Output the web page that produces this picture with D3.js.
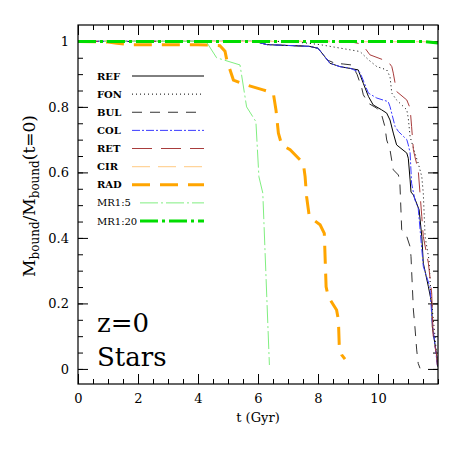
<!DOCTYPE html>
<html>
<head>
<meta charset="utf-8">
<script src="https://cdn.jsdelivr.net/npm/d3@7"></script>
<style>
body { margin: 0; background: #fff; }
svg text { font-family: "DejaVu Serif", serif; fill: #000; }
</style>
</head>
<body>
<div id="chart"></div>
<script>
// series names, in legend order
var names = ['REF', 'FON', 'BUL', 'COL', 'RET', 'CIR', 'RAD', 'MR1:5', 'MR1:20'];

// t (Gyr) and M_bound / M_bound(t=0)
var refT = [0, 5.9, 6.3, 7.7, 8.0, 8.23, 8.4, 8.73, 9.34, 9.51, 9.68, 9.84, 10.12, 10.29, 10.4, 10.51, 10.62, 10.96, 11.01, 11.07, 11.1, 11.18, 11.37, 11.46, 11.51, 11.68, 11.79, 11.81, 11.96, 11.99];
var refM = [1, 1, 0.99, 0.985, 0.979, 0.953, 0.933, 0.923, 0.913, 0.872, 0.832, 0.806, 0.791, 0.781, 0.76, 0.72, 0.684, 0.659, 0.643, 0.577, 0.54, 0.531, 0.486, 0.404, 0.323, 0.251, 0.2, 0.129, 0.038, 0.007];

var fonT = [0, 7.0, 7.6, 8.07, 9.4, 9.68, 9.96, 10.29, 10.4, 10.46, 10.62, 10.96, 11.01, 11.07, 11.23, 11.34, 11.46, 11.51, 11.57, 11.7, 11.74, 11.79, 11.9, 11.98];
var fonM = [1, 1, 0.995, 0.99, 0.969, 0.944, 0.923, 0.913, 0.892, 0.842, 0.821, 0.791, 0.765, 0.709, 0.659, 0.628, 0.587, 0.536, 0.404, 0.333, 0.262, 0.2, 0.099, 0.017];

var bulT = [0, 5.9, 6.3, 7.7, 8.0, 8.2, 8.34, 8.57, 8.84, 9.12, 9.3, 9.46, 9.51, 9.68, 9.96, 10.12, 10.23, 10.29, 10.4, 10.51, 10.68, 10.73, 10.79, 10.96, 11.07, 11.1, 11.18, 11.23, 11.29, 11.34, 11.4];
var bulM = [1, 1, 0.99, 0.985, 0.979, 0.955, 0.942, 0.933, 0.931, 0.928, 0.9, 0.857, 0.837, 0.811, 0.796, 0.776, 0.74, 0.699, 0.669, 0.608, 0.592, 0.567, 0.425, 0.404, 0.373, 0.343, 0.18, 0.129, 0.058, 0.017, 0.002];

var colT = [0, 5.9, 6.3, 7.7, 8.0, 8.23, 8.4, 8.73, 9.07, 9.4, 9.57, 9.68, 9.96, 10.34, 10.4, 10.57, 10.68, 10.96, 11.01, 11.07, 11.12, 11.23, 11.34, 11.51, 11.73, 11.8, 11.98];
var colM = [1, 1, 0.99, 0.985, 0.979, 0.953, 0.933, 0.923, 0.918, 0.905, 0.867, 0.842, 0.827, 0.816, 0.801, 0.74, 0.725, 0.7, 0.684, 0.66, 0.567, 0.516, 0.491, 0.313, 0.251, 0.15, 0.01];

var retT = [0, 9.0, 9.34, 9.57, 9.73, 10.34, 10.46, 10.51, 10.62, 10.96, 11.07, 11.12, 11.18, 11.23, 11.34, 11.46, 11.51, 11.68, 11.79, 11.84, 11.96, 11.98];
var retM = [1, 1, 0.994, 0.979, 0.959, 0.938, 0.923, 0.903, 0.847, 0.821, 0.796, 0.74, 0.669, 0.648, 0.608, 0.465, 0.404, 0.323, 0.231, 0.099, 0.038, 0.003];

var cirT = [0, 6, 12];
var cirM = [1, 1, 0.999];

var radT = [0, 1.0, 1.3, 1.8, 4.0, 4.73, 4.9, 4.96, 5.18, 5.51, 6.17, 6.51, 6.6, 6.68, 6.79, 7.07, 7.51, 7.57, 7.62, 7.71, 8.07, 8.21, 8.27, 8.34, 8.62, 8.68, 8.71, 8.79, 8.9];
var radM = [1, 0.998, 0.994, 0.99, 0.99, 0.987, 0.97, 0.943, 0.882, 0.87, 0.852, 0.842, 0.79, 0.72, 0.684, 0.669, 0.628, 0.587, 0.526, 0.465, 0.44, 0.414, 0.251, 0.221, 0.18, 0.15, 0.068, 0.043, 0.03];

var mr5T = [0, 4.27, 4.62, 5.4, 5.62, 5.93, 6.03, 6.16, 6.38];
var mr5M = [1, 1, 0.95, 0.928, 0.8, 0.755, 0.587, 0.537, 0.012];

var mr20T = [0, 11.5, 12];
var mr20M = [1, 1, 0.995];

var xTicks = [0, 2, 4, 6, 8, 10];
var yTicks = [0, 0.2, 0.4, 0.6, 0.8, 1];

var width = 463, height = 463;
var pL = 78, pR = 438, pT = 25, pB = 384;

var svg = d3.select('#chart').append('svg')
    .attr('width', width)
    .attr('height', height);

var x = d3.scaleLinear().domain([0, 12]).range([pL, pR]);
var y = d3.scaleLinear().domain([-0.046, 1.05]).range([pB, pT]);

// line styles
var styles = {
    'REF':    { color: '#000',    width: 1,   dash: null },
    'FON':    { color: '#000',    width: 1,   dash: '1,3' },
    'BUL':    { color: '#333',    width: 1,   dash: '10,8' },
    'COL':    { color: '#3b3bff', width: 1,   dash: '8,2,2,2' },
    'RET':    { color: '#a83c3c', width: 1,   dash: '20,9' },
    'CIR':    { color: '#ffd49a', width: 1.3, dash: '18,8' },
    'RAD':    { color: '#ffa500', width: 3,   dash: '18,10' },
    'MR1:5':  { color: '#80ee80', width: 1,   dash: '18,3,2,3' },
    'MR1:20': { color: '#00dd00', width: 3,   dash: '18,4,3,4' }
};

var series = [
    [refT, refM], [fonT, fonM], [bulT, bulM], [colT, colM], [retT, retM],
    [cirT, cirM], [radT, radM], [mr5T, mr5M], [mr20T, mr20M]
].map(function (s, i) {
    return { name: names[i], pts: s[0].map(function (t, j) { return [t, s[1][j]]; }) };
});

svg.append('clipPath').attr('id', 'clip')
    .append('rect')
    .attr('x', pL).attr('y', pT)
    .attr('width', pR - pL).attr('height', pB - pT);

// axes: major ticks labelled, minor ticks bare, all pointing inward
function minor(step, lo, hi) {
    return d3.range(lo, hi + 1e-9, step);
}

var axisLayer = svg.append('g');

function drawAxis(axis, tx, ty) {
    var g = axisLayer.append('g')
        .attr('transform', 'translate(' + tx + ',' + ty + ')')
        .call(axis);
    g.select('.domain').remove();
    g.selectAll('.tick line').attr('stroke', '#000');
    g.selectAll('text').style('font-family', '"DejaVu Serif", serif').style('font-size', '13px');
    return g;
}

drawAxis(d3.axisBottom(x).tickValues(minor(0.5, 0, 12)).tickSize(-5).tickFormat(''), 0, pB);
drawAxis(d3.axisTop(x).tickValues(minor(0.5, 0, 12)).tickSize(-5).tickFormat(''), 0, pT);
drawAxis(d3.axisBottom(x).tickValues(xTicks).tickSize(-10).tickPadding(10).tickFormat(d3.format('d')), 0, pB);
drawAxis(d3.axisTop(x).tickValues(xTicks).tickSize(-10).tickFormat(''), 0, pT);

drawAxis(d3.axisLeft(y).tickValues(minor(0.05, 0, 1)).tickSize(-5).tickFormat(''), pL, 0);
drawAxis(d3.axisRight(y).tickValues(minor(0.05, 0, 1)).tickSize(-5).tickFormat(''), pR, 0);
drawAxis(d3.axisLeft(y).tickValues(yTicks).tickSize(-10).tickPadding(9).tickFormat(function (d) { return d === 0 || d === 1 ? d3.format('d')(d) : d3.format('.1f')(d); }), pL, 0);
drawAxis(d3.axisRight(y).tickValues(yTicks).tickSize(-10).tickFormat(''), pR, 0);

// curves
var line = d3.line()
    .x(function (d) { return x(d[0]); })
    .y(function (d) { return y(d[1]); });

svg.append('g')
    .attr('clip-path', 'url(#clip)')
    .selectAll('path.series')
    .data(series)
    .enter()
    .append('path')
    .attr('class', 'series')
    .attr('d', function (d) { return line(d.pts); })
    .attr('fill', 'none')
    .attr('stroke', function (d) { return styles[d.name].color; })
    .attr('stroke-width', function (d) { return styles[d.name].width; })
    .attr('stroke-dasharray', function (d) { return styles[d.name].dash; });

// frame
svg.append('rect')
    .attr('x', pL).attr('y', pT)
    .attr('width', pR - pL).attr('height', pB - pT)
    .attr('fill', 'none')
    .attr('stroke', '#000')
    .attr('stroke-width', 1.2);

// legend
var leg = svg.append('g');
var rowY = d3.scaleLinear().domain([0, 8]).range([76, 221]);

leg.selectAll('text')
    .data(names)
    .enter()
    .append('text')
    .attr('x', 97)
    .attr('y', function (d, i) { return rowY(i) + 3.5; })
    .style('font-size', '10px')
    .style('font-weight', function (d) { return d.indexOf('MR') === 0 ? 'normal' : 'bold'; })
    .text(function (d) { return d; });

leg.selectAll('line')
    .data(names)
    .enter()
    .append('line')
    .attr('x1', function (d) { return d.indexOf('MR') === 0 ? 140 : 132; })
    .attr('x2', 204)
    .attr('y1', function (d, i) { return rowY(i); })
    .attr('y2', function (d, i) { return rowY(i); })
    .attr('stroke', function (d) { return styles[d].color; })
    .attr('stroke-width', function (d) { return styles[d].width; })
    .attr('stroke-dasharray', function (d) { return styles[d].dash; });

// labels
svg.append('text')
    .attr('x', (pL + pR) / 2)
    .attr('y', 422)
    .attr('text-anchor', 'middle')
    .style('font-size', '13px')
    .text('t (Gyr)');

var yl = svg.append('text')
    .attr('transform', 'translate(35,196) rotate(-90)')
    .attr('text-anchor', 'middle')
    .style('font-size', '17px');
yl.append('tspan').text('M');
yl.append('tspan').attr('dy', 4).style('font-size', '12px').text('bound');
yl.append('tspan').attr('dy', -4).text('/M');
yl.append('tspan').attr('dy', 4).style('font-size', '12px').text('bound');
yl.append('tspan').attr('dy', -4).text('(t=0)');

svg.append('text')
    .attr('x', 97).attr('y', 332)
    .style('font-size', '26px')
    .text('z=0');

svg.append('text')
    .attr('x', 97).attr('y', 366)
    .style('font-size', '26px')
    .text('Stars');
</script>
</body>
</html>
